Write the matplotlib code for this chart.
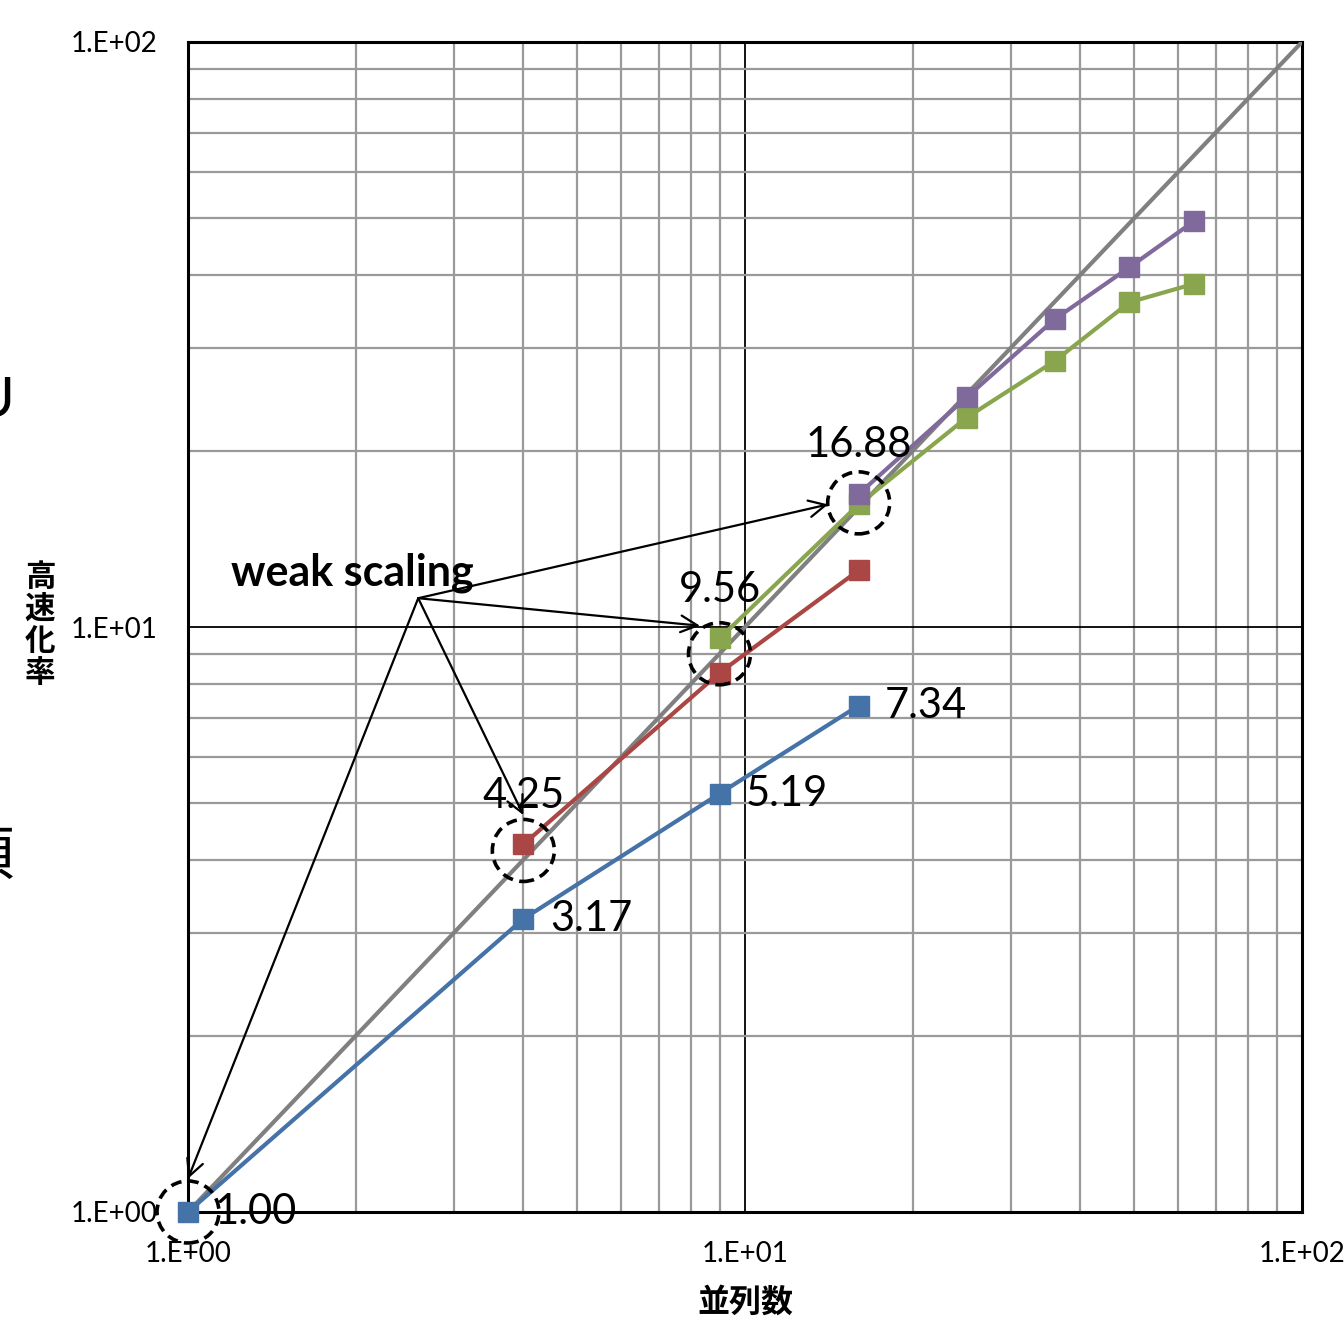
import numpy as np
import matplotlib.pyplot as plt
from matplotlib.patches import Ellipse
from matplotlib.ticker import LogLocator, FixedFormatter, FixedLocator

# data
procs_blue = [1, 4, 9, 16]
speed_blue = [1.00, 3.17, 5.19, 7.34]
procs_red = [4, 9, 16]
speed_red = [4.25, 8.35, 12.5]
procs_green = [9, 16, 25, 36, 49, 64]
speed_green = [9.56, 16.2, 22.8, 28.5, 35.9, 38.6]
procs_purple = [16, 25, 36, 49, 64]
speed_purple = [16.88, 24.7, 33.6, 41.2, 49.4]
ideal = [1, 100]

labels_right = [(1, 1.00, '1.00'), (4, 3.17, '3.17'), (9, 5.19, '5.19'), (16, 7.34, '7.34')]
labels_above = [(4, 4.25, '4.25'), (9, 9.56, '9.56'), (16, 16.88, '16.88')]
circles = [(1, 1), (4, 4.15), (9, 9.0), (16, 16.3)]
arrow_src = (2.59, 11.2)
arrow_dst = [(1, 1.14), (4, 4.77), (8.3, 10.05), (14.1, 16.2)]

num_font = ['Lato', 'DejaVu Sans']
cjk_font = ['Noto Sans CJK JP', 'DejaVu Sans']

fig = plt.figure(figsize=(13.44, 13.17), dpi=100)
ax = fig.add_axes([188/1344, 1 - 1212/1317, (1302-188)/1344, (1212-42)/1317])
ax.set_xscale('log')
ax.set_yscale('log')
ax.set_xlim(1, 100)
ax.set_ylim(1, 100)

ax.xaxis.set_minor_locator(LogLocator(base=10, subs=np.arange(2, 10)))
ax.yaxis.set_minor_locator(LogLocator(base=10, subs=np.arange(2, 10)))
ax.grid(which='minor', color='#9a9a9a', linewidth=1.6)
ax.grid(which='major', color='black', linewidth=1.3)
ax.set_axisbelow(True)
ax.xaxis.set_major_locator(FixedLocator([1, 10, 100]))
ax.yaxis.set_major_locator(FixedLocator([1, 10, 100]))
ax.xaxis.set_major_formatter(FixedFormatter(['1.E+00', '1.E+01', '1.E+02']))
ax.yaxis.set_major_formatter(FixedFormatter(['1.E+00', '1.E+01', '1.E+02']))
ax.xaxis.set_minor_formatter(FixedFormatter([]))
ax.yaxis.set_minor_formatter(FixedFormatter([]))
ax.tick_params(which='both', length=0)
ax.tick_params(axis='x', pad=21)
ax.tick_params(axis='y', pad=22)
for lab in ax.get_xticklabels() + ax.get_yticklabels():
    lab.set_fontfamily(num_font)
    lab.set_fontsize(20)
for sp in ax.spines.values():
    sp.set_linewidth(2.2)

ax.plot(ideal, ideal, color='#808080', lw=3, zorder=3)
ax.plot(procs_blue, speed_blue, color='#4572A7', lw=3, marker='s', ms=14, zorder=4, clip_on=False)
ax.plot(procs_red, speed_red, color='#AA4643', lw=3, marker='s', ms=14, zorder=4)
ax.plot(procs_green, speed_green, color='#89A54E', lw=3, marker='s', ms=14, zorder=4)
ax.plot(procs_purple, speed_purple, color='#80699B', lw=3, marker='s', ms=14, zorder=5)

for x, y, t in labels_right:
    ax.annotate(t, (x, y), xytext=(19, 0), textcoords='offset points',
                ha='left', va='center', fontsize=30, family=num_font, zorder=6)
for x, y, t in labels_above:
    ax.annotate(t, (x, y), xytext=(0, 35), textcoords='offset points',
                ha='center', va='center', fontsize=30, family=num_font, zorder=6)

w = 62 / 1114
h = 62 / 1170
for x, y in circles:
    e = Ellipse((np.log10(x) / 2, np.log10(y) / 2), w, h, transform=ax.transAxes,
                fill=False, ec='black', lw=2.6, ls=(0, (3, 1.8)), zorder=7, clip_on=False)
    ax.add_patch(e)

for dx, dy in arrow_dst:
    ax.annotate('', xy=(dx, dy), xytext=arrow_src,
                arrowprops=dict(arrowstyle='->', color='black', lw=1.6,
                                mutation_scale=30, shrinkA=0, shrinkB=0), zorder=8)

ax.text(1.97, 12.4, 'weak scaling', ha='center', va='center', fontsize=31,
        fontweight='bold', family=num_font, zorder=8)

ax.set_xlabel('並列数', family=cjk_font, fontsize=23, fontweight='bold', labelpad=14)
fig.text(40/1344, 1 - 625/1317, '高\n速\n化\n率', family=cjk_font, fontsize=22,
         fontweight='bold', ha='center', va='center', linespacing=1.0)

# clipped text fragments at the left edge
fig.text(14/1344, 1 - 402/1317, 'U', family=num_font, fontsize=40, ha='right', va='center')
fig.text(14/1344, 1 - 857/1317, '頂', family=cjk_font, fontsize=42, ha='right', va='center')

fig.savefig('out.png', dpi=100)
